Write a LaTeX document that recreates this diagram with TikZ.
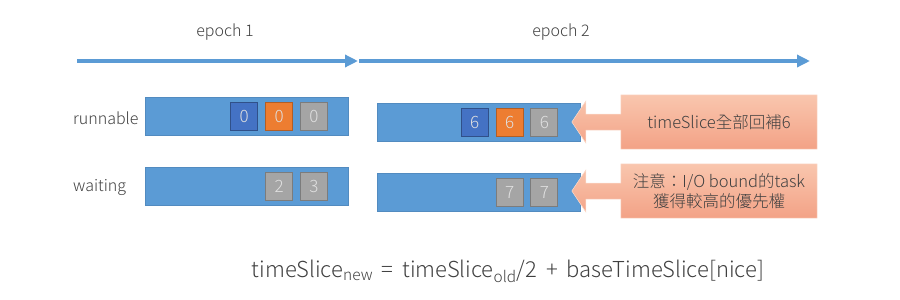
\documentclass[tikz,border=0pt]{standalone}
\usepackage{fontspec}
\setmainfont{Noto Sans CJK TC Light}
\usetikzlibrary{arrows.meta,positioning,calc}
\definecolor{ink}{HTML}{404040}
\definecolor{barblue}{HTML}{5B9BD5}
\definecolor{taskblue}{HTML}{4472C4}
\definecolor{taskorange}{HTML}{ED7D31}
\definecolor{taskgray}{HTML}{A5A5A5}
\definecolor{notetop}{HTML}{F9C6AE}
\definecolor{notebot}{HTML}{F3A286}
\newcommand{\opgap}{\hspace{.4em}}
\tikzset{
  timeline/.style={-{Triangle[length=13pt,width=12pt]}, line width=4pt, draw=barblue},
  qbar/.style={rectangle, draw=barblue!90!black, fill=barblue, line width=0.5pt,
               minimum width=203pt, minimum height=38pt, inner sep=0pt},
  task/.style={rectangle, minimum width=27pt, minimum height=28pt, inner sep=0pt,
               line width=0.8pt, font=\fontsize{17}{17}\selectfont, text=white!88!black},
  tblue/.style={task, fill=taskblue, draw=taskblue!70!black},
  torange/.style={task, fill=taskorange, draw=taskorange!75!black},
  tgray/.style={task, fill=taskgray, draw=taskgray!75!black},
  lbl/.style={font=\fontsize{16}{16}\selectfont, text=ink, inner sep=0pt},
  note/.style={rectangle, minimum width=196pt, minimum height=54pt, inner sep=0pt,
               align=center, font=\fontsize{16.5}{20}\selectfont, text=ink},
  notefill/.style={top color=notetop, bottom color=notebot, draw=notetop!60!white, line width=0.5pt},
}

\begin{document}
\begin{tikzpicture}[x=1pt, y=-1pt]
\useasboundingbox (0,0) rectangle (900,300);
% time axis
\coordinate (t0) at (77,61);
\coordinate (t1) at (358,61);
\coordinate (t2) at (359,61);
\coordinate (t3) at (810,61);
\draw[timeline] (t0) -- (t1);
\draw[timeline] (t2) -- (t3);
\node[lbl] (ep1) at (225,32) {epoch 1};
\node[lbl] (ep2) at (561,32) {epoch 2};
% epoch 1 queues
\node[lbl, anchor=west] (runlbl) at (73,118) {runnable};
\node[lbl, anchor=west] (waitlbl) at (73,187) {waiting};
\node[qbar] (run1) at (247,116.5) {};
\node[tgray, left=21pt of run1.east, anchor=east] (r1c) {0};
\node[torange, left=7pt of r1c] (r1b) {0};
\node[tblue, left=7pt of r1b] (r1a) {0};
\node[qbar] (wait1) at (247,186.5) {};
\node[tgray, left=21pt of wait1.east, anchor=east] (w1b) {3};
\node[tgray, left=7pt of w1b] (w1a) {2};
% epoch 2 queues
\node[qbar] (run2) at (478.5,122) {};
\node[tgray, left=22pt of run2.east, anchor=east] (r2c) {6};
\node[torange, left=7pt of r2c] (r2b) {6};
\node[tblue, left=7pt of r2b] (r2a) {6};
\node[qbar] (wait2) at (478.5,192) {};
\node[tgray, left=22pt of wait2.east, anchor=east] (w2b) {7};
\node[tgray, left=7pt of w2b] (w2a) {7};
% callouts pointing back at the queues
\foreach \n/\y in {note1/122, note2/191}{
  \node[note] (\n) at (719,\y) {};
  \shade[notefill] (\n.north west) -- (\n.north east) -- (\n.south east) -- (\n.south west)
    -- ($(\n.west)+(0,8)$) -- ++(-35,0) -- ++(0,13) -- ++(-14,-21) -- ++(14,-21)
    -- ++(0,13) -- ($(\n.west)+(0,-8)$) -- cycle;
}
\node[note] at (note1) {timeSlice全部回補6};
\node[note] at (note2) {注意：I/O bound的task\\獲得較高的優先權};
% update rule
\node[lbl, font=\fontsize{22}{22}\selectfont] (rule) at (508,271)
  {timeSlice\textsubscript{new}\opgap=\opgap timeSlice\textsubscript{old}/2\opgap+\opgap baseTimeSlice[nice]};
\end{tikzpicture}
\end{document}
